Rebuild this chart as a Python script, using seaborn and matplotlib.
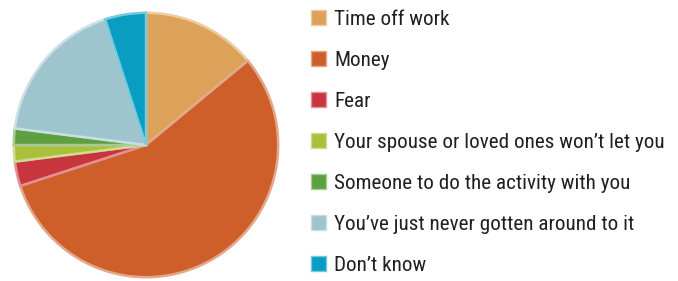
import matplotlib
matplotlib.use("Agg")
import matplotlib.pyplot as plt
import matplotlib.colors as mcolors
from matplotlib.patches import Patch
import seaborn as sns

# survey answers (percent)
reasons = [
    "Time off work",
    "Money",
    "Fear",
    "Your spouse or loved ones won\u2019t let you",
    "Someone to do the activity with you",
    "You\u2019ve just never gotten around to it",
    "Don\u2019t know",
]
shares = [14, 56, 3, 2, 2, 18, 5]
colors = ["#DDA25A", "#CE5F2A", "#C9353D", "#A9C03B", "#5E9F3F", "#9EC5CD", "#099DC1"]

sns.set_theme(style="white")
plt.rcParams["font.family"] = ["Roboto Condensed", "DejaVu Sans"]

fig = plt.figure(figsize=(6.78, 2.81), dpi=100)
ax = fig.add_axes([12.5 / 678, 2.5 / 281, 267 / 678, 267 / 281])

# lighter rim on each wedge for the bevelled look
edges = [mcolors.to_hex([c + (1 - c) * 0.45 for c in mcolors.to_rgb(col)]) for col in colors]
wedges, _ = ax.pie(shares, colors=colors, startangle=90, counterclock=False,
                   wedgeprops=dict(linewidth=1.8))
for w, ec in zip(wedges, edges):
    w.set_edgecolor(ec)
ax.set_xlim(-1.01, 1.01)
ax.set_ylim(-1.01, 1.01)
ax.set_aspect("equal")
ax.axis("off")

handles = [Patch(facecolor=c, edgecolor=e, linewidth=1.0) for c, e in zip(colors, edges)]
fig.legend(handles, reasons, loc="upper left", bbox_to_anchor=(311 / 678, 1 - 10 / 281),
           frameon=False, fontsize=15.2, handlelength=0.72, handleheight=0.72,
           handletextpad=0.38, labelspacing=1.04, borderpad=0.0, borderaxespad=0.0,
           labelcolor="#231F20")

fig.savefig("out.png", dpi=100)
